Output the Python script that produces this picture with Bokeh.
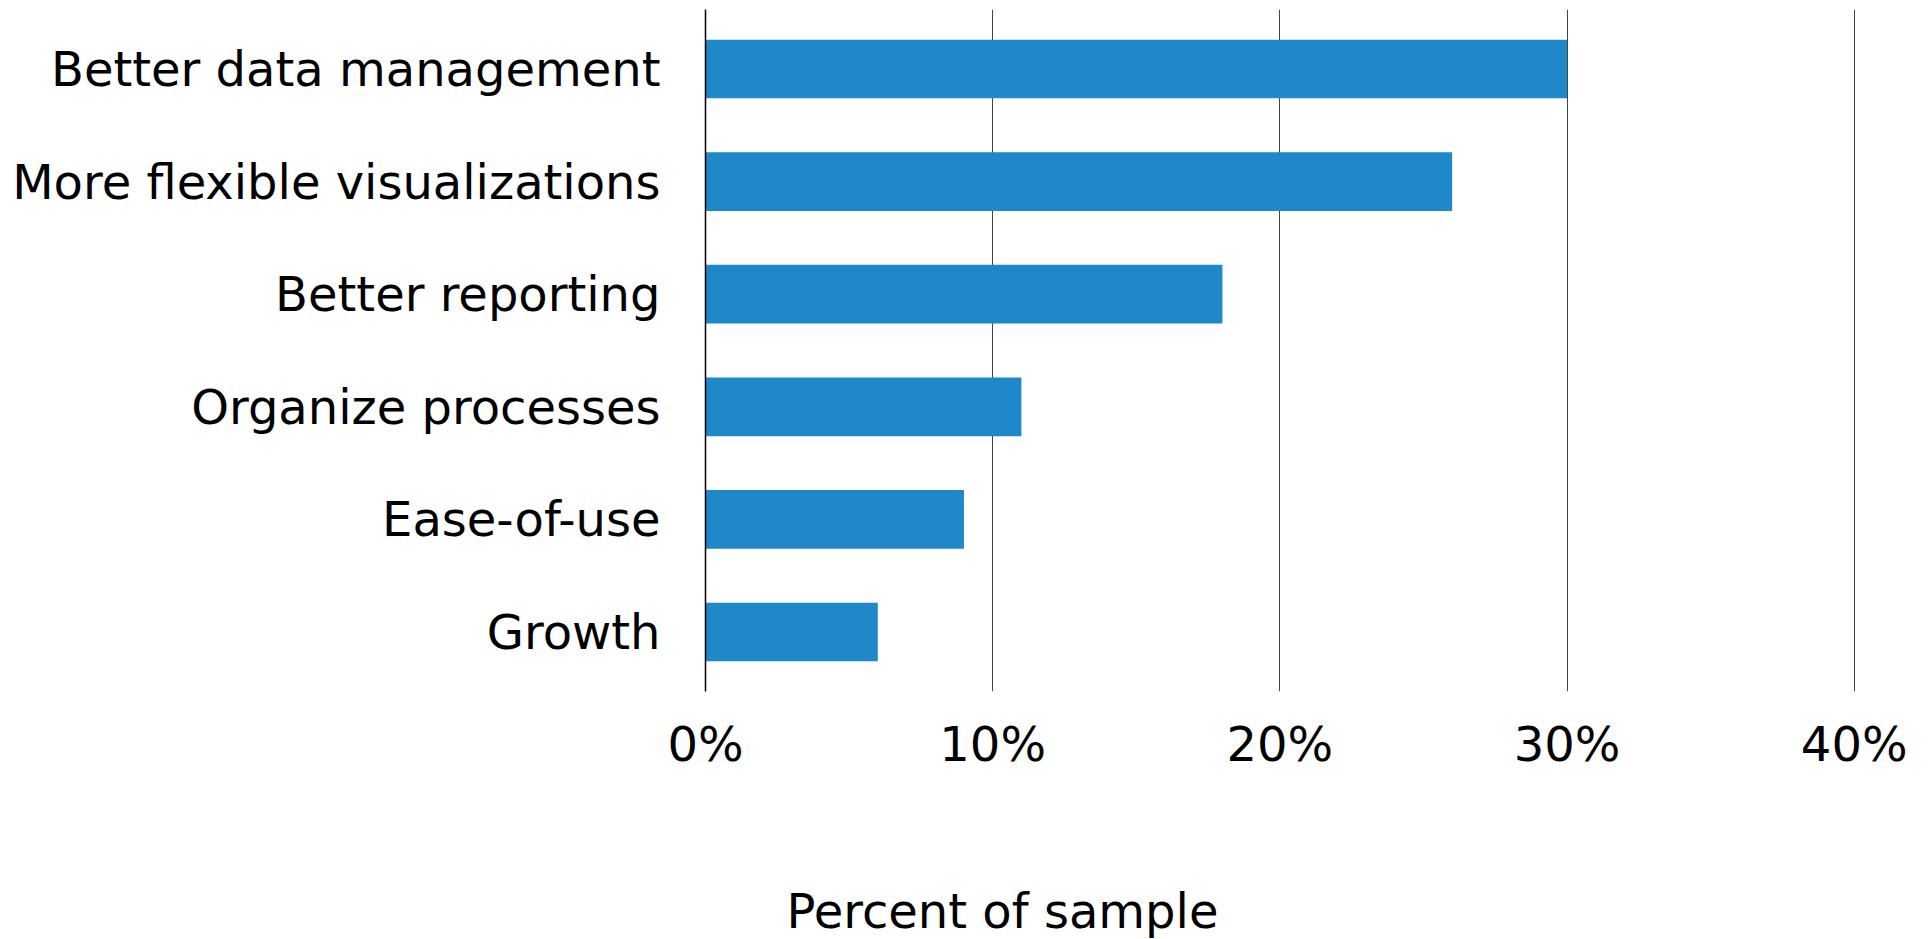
from bokeh.plotting import figure
from bokeh.models import Title, FixedTicker, FactorRange
from bokeh.embed import file_html
from bokeh.resources import INLINE

categories = ["Better data management", "More flexible visualizations", "Better reporting",
              "Organize processes", "Ease-of-use", "Growth"]
values = [30, 26, 18, 11, 9, 6]
ticks = [0, 10, 20, 30, 40]
tick_labels = {0: "0%", 10: "10%", 20: "20%", 30: "30%", 40: "40%"}
x_title = "Percent of sample"

FONT = "DejaVu Sans"

p = figure(width=1932, height=939,
           y_range=FactorRange(factors=list(reversed(categories)), range_padding=0.0095),
           x_range=(0, 40.15),
           output_backend="svg", toolbar_location=None,
           min_border_left=705, min_border_right=74, min_border_top=9, min_border_bottom=248)
p.outline_line_color = None
p.background_fill_color = "white"
p.border_fill_color = "white"

p.hbar(y=categories, right=values, left=0, height=0.521, color="#1f88c8", line_color=None)

p.xaxis.ticker = FixedTicker(ticks=ticks)
p.xaxis.major_label_overrides = tick_labels
p.xaxis.axis_line_color = None
p.xaxis.major_tick_line_color = None
p.xaxis.minor_tick_line_color = None
p.xaxis.major_label_text_font = FONT
p.xaxis.major_label_text_font_size = "48px"
p.xaxis.major_label_text_color = "black"
p.xaxis.major_label_standoff = 18
# invisible spacer label to push the title down
p.xaxis.axis_label = "."
p.xaxis.axis_label_text_font_size = "10px"
p.xaxis.axis_label_text_alpha = 0
p.xaxis.axis_label_standoff = 95

p.yaxis.axis_line_color = "black"
p.yaxis.axis_line_width = 1.5
p.yaxis.major_tick_line_color = None
p.yaxis.minor_tick_line_color = None
p.yaxis.major_label_text_font = FONT
p.yaxis.major_label_text_font_size = "48px"
p.yaxis.major_label_text_color = "black"
p.yaxis.major_label_standoff = 39

p.ygrid.grid_line_color = None
p.xgrid.grid_line_color = "#444444"
p.xgrid.grid_line_width = 1

t = Title(text=x_title, align="left", offset=81, standoff=0,
          text_font=FONT, text_font_size="48px", text_font_style="normal", text_color="black")
p.add_layout(t, "below")

open("out.html", "w").write(file_html(p, INLINE))
